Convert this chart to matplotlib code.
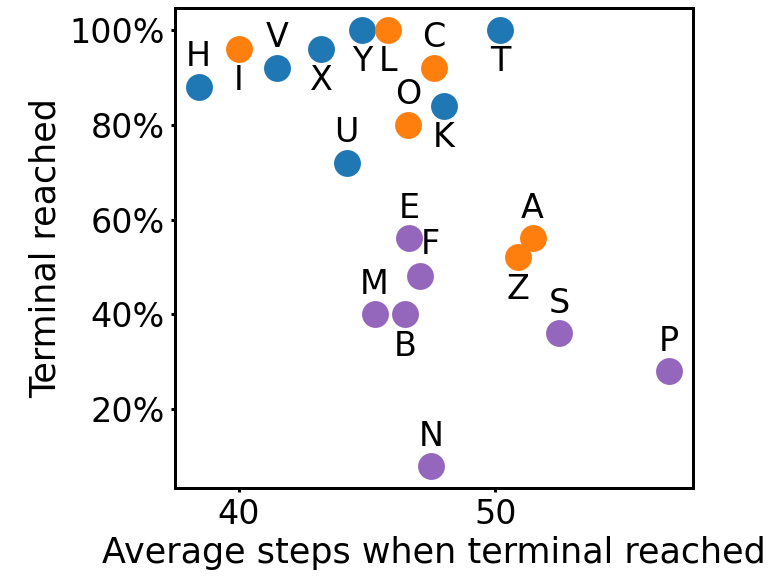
import numpy as np
import matplotlib.pyplot as plt
from matplotlib.ticker import PercentFormatter

# agents: name, avg steps, fraction terminal reached, label placement
blue_names = ["H", "V", "X", "Y", "K", "U", "T"]
blue_steps = [38.43, 41.5, 43.2, 44.8, 48.0, 44.2, 50.2]
blue_reached = [0.88, 0.92, 0.96, 1.00, 0.84, 0.72, 1.00]
blue_pos = ["up", "up", "down", "down", "down", "up", "down"]

orange_names = ["I", "L", "C", "O", "A", "Z"]
orange_steps = [40.0, 45.8, 47.6, 46.6, 51.45, 50.9]
orange_reached = [0.96, 1.00, 0.92, 0.80, 0.56, 0.52]
orange_pos = ["down", "down", "up", "up", "up", "down"]

purple_names = ["E", "F", "M", "B", "S", "P", "N"]
purple_steps = [46.63, 47.06, 45.29, 46.47, 52.5, 56.78, 47.49]
purple_reached = [0.56, 0.48, 0.40, 0.40, 0.36, 0.28, 0.08]
purple_pos = ["up", "upright", "up", "down", "up", "up", "up"]

plt.rcParams["font.size"] = 20

fig = plt.figure(figsize=(6.4, 4.8), dpi=120)
ax = fig.add_axes([0.228, 0.153, 0.674, 0.833])

offsets = {"up": (0, 18), "down": (0, -19), "upright": (6, 19)}

groups = [
    (blue_names, blue_steps, blue_reached, blue_pos, "#1f77b4"),
    (orange_names, orange_steps, orange_reached, orange_pos, "#ff7f0e"),
    (purple_names, purple_steps, purple_reached, purple_pos, "#9467bd"),
]

for names, steps, reached, pos, color in groups:
    ax.scatter(steps, reached, s=260, color=color, linewidths=0, zorder=3)
    for n, x, y, p in zip(names, steps, reached, pos):
        ax.annotate(n, (x, y), xytext=offsets[p], textcoords="offset points",
                    ha="center", va="center", fontsize=20)

ax.yaxis.set_major_formatter(PercentFormatter(1.0, decimals=0))
ax.set_xticks([40, 50])
ax.set_yticks([0.2, 0.4, 0.6, 0.8, 1.0])
ax.set_xlabel("Average steps when terminal reached", fontsize=21, labelpad=3)
ax.set_ylabel("Terminal reached", fontsize=21)

for sp in ax.spines.values():
    sp.set_linewidth(1.8)
ax.tick_params(width=1.8, length=2.5)

fig.savefig("out.png", dpi=120)
